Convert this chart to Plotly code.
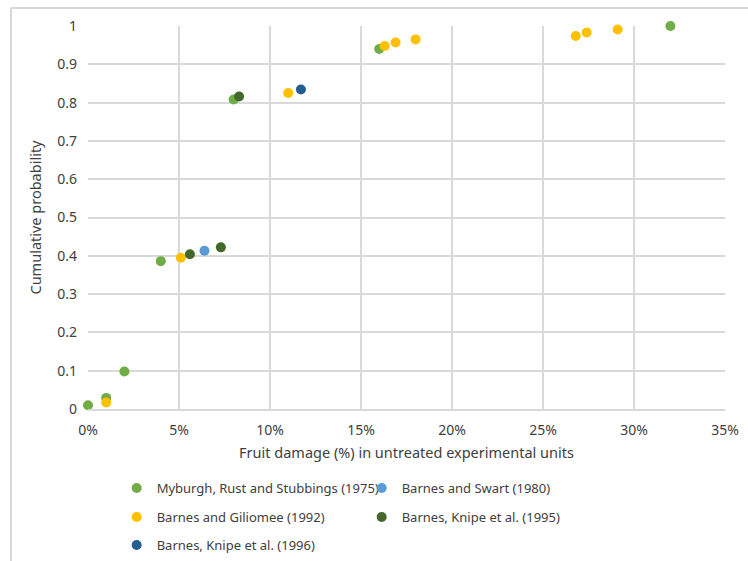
import plotly.graph_objects as go

# data (x = fruit damage %, y = cumulative probability)
myburgh_x = [0, 1, 2, 4, 8, 16, 32]
myburgh_y = [0.01, 0.029, 0.098, 0.386, 0.808, 0.94, 1.0]

swart_x = [6.4]
swart_y = [0.413]

giliomee_x = [1, 5.1, 11.0, 16.3, 16.9, 18.0, 26.8, 27.4, 29.1]
giliomee_y = [0.017, 0.395, 0.825, 0.948, 0.957, 0.965, 0.974, 0.983, 0.991]

knipe95_x = [5.6, 7.3, 8.3]
knipe95_y = [0.404, 0.422, 0.816]

knipe96_x = [11.7]
knipe96_y = [0.834]

# name, x, y, colour, legend row
series = [
    ("Myburgh, Rust and Stubbings (1975)", myburgh_x, myburgh_y, "#70ad47", "legend"),
    ("Barnes and Swart (1980)", swart_x, swart_y, "#5b9bd5", "legend"),
    ("Barnes and Giliomee (1992)", giliomee_x, giliomee_y, "#ffc000", "legend2"),
    ("Barnes, Knipe et al. (1995)", knipe95_x, knipe95_y, "#43682b", "legend2"),
    ("Barnes, Knipe et al. (1996)", knipe96_x, knipe96_y, "#255e91", "legend3"),
]

FONT = "Noto Sans"
TXT = "#404040"
GRID = "#d9d9d9"

W, H = 748, 561
L, R, T, B = 88, 23, 26, 152
PW, PH = W - L - R, H - T - B
AX = H - B  # pixel row of the x axis


def py(px_row):
    """pixel row -> paper y"""
    return (AX - px_row) / PH


fig = go.Figure()
for name, xs, ys, col, lg in series:
    fig.add_trace(go.Scatter(
        x=xs, y=ys, mode="markers", name=name, legend=lg,
        marker=dict(size=10, color=col),
        cliponaxis=False,
    ))

# outer chart frame (only top and left edges are visible in the crop)
fx0 = (11 - L) / PW
fig.add_shape(type="line", xref="paper", yref="paper",
              x0=fx0, x1=fx0, y0=py(8), y1=py(H),
              line=dict(color=GRID, width=2))
fig.add_shape(type="line", xref="paper", yref="paper",
              x0=fx0, x1=(W - L) / PW, y0=py(8), y1=py(8),
              line=dict(color=GRID, width=2))

# legends placed in container coords so they don't push the bottom margin
leg = dict(orientation="h", x=0.045, xanchor="left", yanchor="top",
           yref="container",
           entrywidth=200, entrywidthmode="pixels",
           font=dict(size=13, color=TXT), bgcolor="rgba(0,0,0,0)")
# legend rows centred at y = 488, 517, 545 px (row centre is ~15px below box top)
fig.update_layout(
    width=W, height=H,
    margin=dict(l=L, r=R, t=T, b=B),
    paper_bgcolor="white", plot_bgcolor="white",
    font=dict(family=FONT, size=14, color=TXT),
    showlegend=True,
    legend=dict(leg, y=1 - (488 - 15) / H),
    legend2=dict(leg, y=1 - (517 - 15) / H),
    legend3=dict(leg, y=1 - (545 - 15) / H),
    xaxis=dict(
        range=[0, 35], dtick=5, ticksuffix="%", automargin=False,
        showgrid=True, gridcolor=GRID, gridwidth=1.5,
        zeroline=False, showline=True, linecolor=GRID, linewidth=1.5,
        ticks="", ticklabelstandoff=7, tickfont=dict(size=14),
        title=dict(text="Fruit damage (%) in untreated experimental units",
                   font=dict(size=14.5, color=TXT), standoff=10),
    ),
    yaxis=dict(
        range=[0, 1], dtick=0.1, automargin=False,
        showgrid=True, gridcolor=GRID, gridwidth=1.5,
        zeroline=False, showline=False,
        ticks="", ticklabelstandoff=10, tickfont=dict(size=14),
        title=dict(text="Cumulative probability",
                   font=dict(size=14.5, color=TXT), standoff=12),
    ),
)

# pin the figure to the window's top-left corner (no body margin, no page overflow)
pin = (
    "document.body.style.margin='0';"
    "document.documentElement.style.overflow='hidden';"
    "document.body.style.overflow='hidden';"
    "var d=document.getElementById('{plot_id}');"
    "d.style.position='fixed';d.style.left='0';d.style.top='0';"
)
fig.write_html("out.html", post_script=pin, config={"displayModeBar": False})
